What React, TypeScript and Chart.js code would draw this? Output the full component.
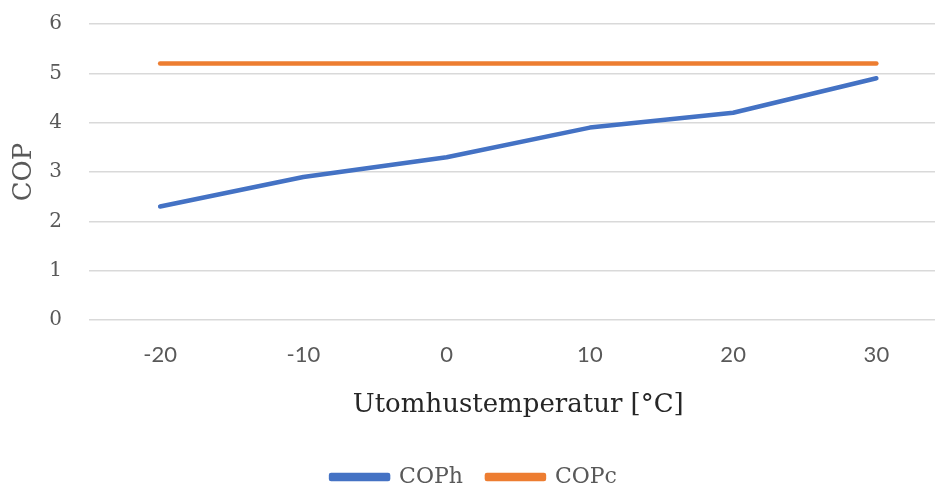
import React, { useEffect, useRef } from "react";
import { Chart, registerables } from "chart.js";

Chart.register(...registerables);

const categories = ["-20", "-10", "0", "10", "20", "30"];
const copH = [2.3, 2.9, 3.3, 3.9, 4.2, 4.9];
const copC = [5.2, 5.2, 5.2, 5.2, 5.2, 5.2];
const yTicks = [0, 1, 2, 3, 4, 5, 6];

const SERIF = "'DejaVu Serif', 'Liberation Serif', serif";
const SANS = "Lato, 'Noto Sans', sans-serif";
const GREY = "#595959";

export default function App() {
  const ref = useRef<HTMLCanvasElement | null>(null);

  useEffect(() => {
    if (!ref.current) return;
    const chart = new Chart(ref.current, {
      type: "line",
      data: {
        labels: categories,
        datasets: [
          {
            label: "COPh",
            data: copH,
            borderColor: "#4472C4",
            backgroundColor: "#4472C4",
            borderWidth: 4.5,
            pointRadius: 0,
            borderCapStyle: "round",
            borderJoinStyle: "round",
            tension: 0,
          },
          {
            label: "COPc",
            data: copC,
            borderColor: "#ED7D31",
            backgroundColor: "#ED7D31",
            borderWidth: 4.5,
            pointRadius: 0,
            borderCapStyle: "round",
            borderJoinStyle: "round",
            tension: 0,
          },
        ],
      },
      options: {
        responsive: false,
        animation: false,
        devicePixelRatio: 1,
        layout: { padding: { top: 24, left: 0, right: 2, bottom: 0 } },
        plugins: {
          tooltip: { enabled: false },
          legend: {
            position: "bottom",
            labels: {
              font: { family: SERIF, size: 22 },
              color: GREY,
              boxWidth: 57,
              boxHeight: 4,
              padding: 24,
            },
          },
        },
        scales: {
          x: {
            offset: true,
            grid: { display: false, drawTicks: false },
            border: { display: false },
            afterFit: (axis: any) => {
              axis.height = 122;
            },
            ticks: {
              font: { family: SANS, size: 22 },
              color: GREY,
              padding: 22,
              maxRotation: 0,
            },
            title: {
              display: true,
              text: "Utomhustemperatur [°C]",
              font: { family: SERIF, size: 26 },
              color: "#262626",
              padding: { top: 0, bottom: 21 },
            },
          },
          y: {
            min: 0,
            max: 6,
            afterBuildTicks: (axis: any) => {
              axis.ticks = yTicks.map((v) => ({ value: v }));
            },
            afterFit: (axis: any) => {
              axis.width = 88.5;
              axis.paddingTop = 0;
              axis.paddingBottom = 0;
            },
            grid: { color: "#d9d9d9", lineWidth: 1.5, drawTicks: false },
            border: { display: false },
            ticks: {
              font: { family: SERIF, size: 20 },
              color: GREY,
              padding: 26.5,
            },
            title: {
              display: true,
              text: "COP",
              font: { family: SERIF, size: 26 },
              color: GREY,
              padding: { top: 8.4, bottom: 0 },
            },
          },
        },
      },
    });
    return () => chart.destroy();
  }, []);

  return (
    <div
      style={{
        position: "fixed",
        left: 0,
        top: 0,
        width: 935,
        height: 490,
        overflow: "hidden",
        background: "#fff",
      }}
    >
      <canvas ref={ref} width={950} height={498} style={{ display: "block" }} />
    </div>
  );
}
